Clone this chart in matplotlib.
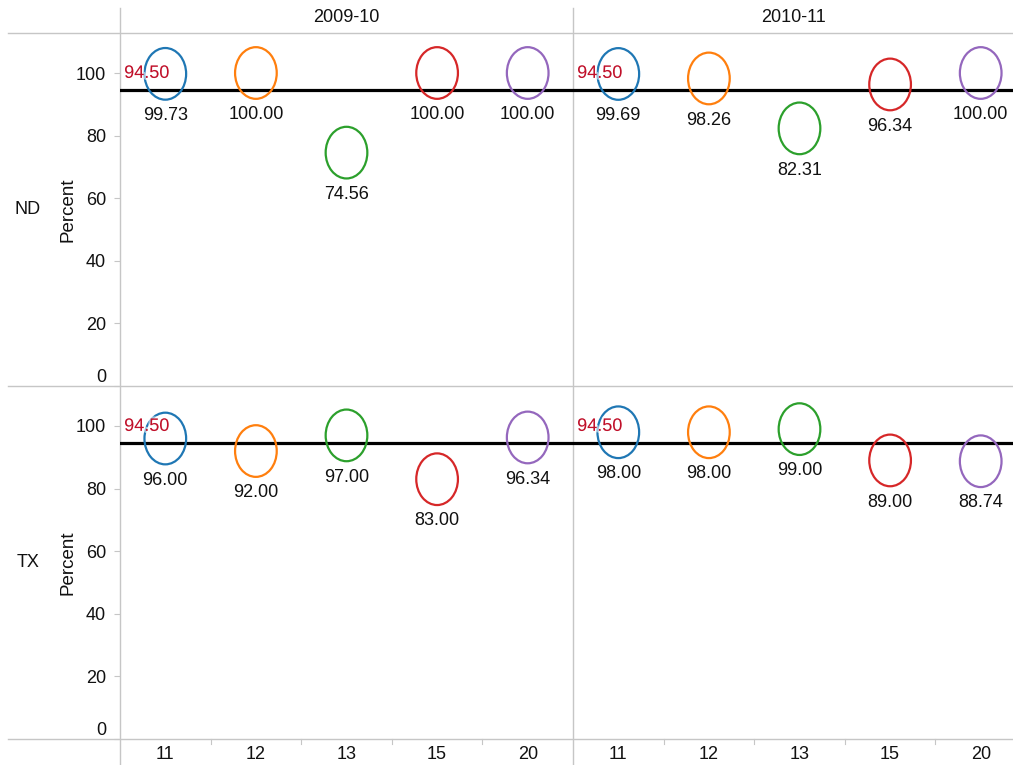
import matplotlib
matplotlib.use("Agg")
import matplotlib.pyplot as plt
from matplotlib.markers import MarkerStyle
from matplotlib.transforms import Affine2D
from matplotlib.lines import Line2D
import matplotlib.patheffects as pe

plt.rcParams['font.family'] = ['Liberation Sans', 'DejaVu Sans']

categories = ['11', '12', '13', '15', '20']
years = ['2009-10', '2010-11']
states = ['ND', 'TX']
values = {
    ('ND', '2009-10'): [99.73, 100.00, 74.56, 100.00, 100.00],
    ('ND', '2010-11'): [99.69, 98.26, 82.31, 96.34, 100.00],
    ('TX', '2009-10'): [96.00, 92.00, 97.00, 83.00, 96.34],
    ('TX', '2010-11'): [98.00, 98.00, 99.00, 89.00, 88.74],
}
reference = 94.50
yticks = [0, 20, 40, 60, 80, 100]
colors = ['#1f77b4', '#ff7f0e', '#2ca02c', '#d62728', '#9467bd']

W, H = 1013, 765
fig = plt.figure(figsize=(W / 100, H / 100), dpi=100)

grid_c = '#c6c6c6'
FS = 13
col_x = [(120, 573), (573, 1026)]
row_y = [(33, 386), (386, 739)]

def fx(px):
    return px / W

def fy(py):
    return 1 - py / H

marker = MarkerStyle('o', transform=Affine2D().scale(1, 1.24))

for r, st in enumerate(states):
    for c, yr in enumerate(years):
        x0, x1 = col_x[c]
        y0, y1 = row_y[r]
        ax = fig.add_axes([fx(x0), fy(y1), (x1 - x0) / W, (y1 - y0) / H])
        ax.set_xlim(-0.5, len(categories) - 0.5)
        ax.set_ylim(0, (y1 - y0) / 3.13)
        for s in ax.spines.values():
            s.set_visible(False)
        vals = values[(st, yr)]
        xs = list(range(len(categories)))
        ax.axhline(reference, color='black', lw=2.3, zorder=2)
        ax.scatter(xs, vals, s=900, marker=marker, facecolors='none',
                   edgecolors=colors, linewidths=1.6, zorder=3)
        for xi, v in zip(xs, vals):
            ax.annotate(f'{v:.2f}', (xi, v), xytext=(0, -30),
                        textcoords='offset points', ha='center', va='center',
                        fontsize=FS, color='#111111', zorder=4)
        ax.annotate(f'{reference:.2f}', (-0.5, reference), xytext=(3, 6),
                    textcoords='offset points', ha='left', va='bottom',
                    fontsize=FS, color='#c0102a', zorder=5,
                    path_effects=[pe.withStroke(linewidth=3, foreground='white', alpha=0.55)])
        ax.set_yticks(yticks)
        if c == 0:
            ax.tick_params(axis='y', length=4, width=0.8, color=grid_c,
                           labelsize=FS, pad=6, labelcolor='#111111')
            ax.set_yticklabels([str(t) for t in yticks])
            for lab in ax.get_yticklabels():
                if lab.get_text() == '0':
                    lab.set_va('bottom')
        else:
            ax.tick_params(axis='y', length=0, labelleft=False)
        if r == len(states) - 1:
            ax.set_xticks(xs)
            ax.set_xticklabels(categories)
            ax.tick_params(axis='x', length=0, labelsize=FS, pad=5, labelcolor='#111111')
            for b in range(1, len(categories)):
                ax.plot([b - 0.5, b - 0.5], [0, -5 / 3.13], color=grid_c, lw=0.8,
                        clip_on=False)
        else:
            ax.set_xticks([])
        ax.patch.set_alpha(0)

# separator lines
lines = [
    ((fx(120), fx(120)), (fy(8), 0)),
    ((fx(573), fx(573)), (fy(8), 0)),
    ((fx(8), 1), (fy(33), fy(33))),
    ((fx(8), 1), (fy(386), fy(386))),
    ((fx(8), 1), (fy(739), fy(739))),
]
for xsl, ysl in lines:
    fig.add_artist(Line2D(xsl, ysl, color=grid_c, lw=1.0, transform=fig.transFigure, zorder=0))

for c, yr in enumerate(years):
    x0, x1 = col_x[c]
    cx = (x0 + x1) / 2 if c == 0 else 793
    fig.text(fx(cx), fy(18), yr, ha='center', va='center', fontsize=FS, color='#111111')

for r, st in enumerate(states):
    y0, y1 = row_y[r]
    fig.text(fx(28), fy((y0 + y1) / 2), st, ha='center', va='center', fontsize=FS, color='#111111')
    fig.text(fx(68), fy((y0 + y1) / 2), 'Percent', ha='center', va='center', rotation=90,
             fontsize=13.5, color='#111111')

fig.savefig('out.png', dpi=100)
